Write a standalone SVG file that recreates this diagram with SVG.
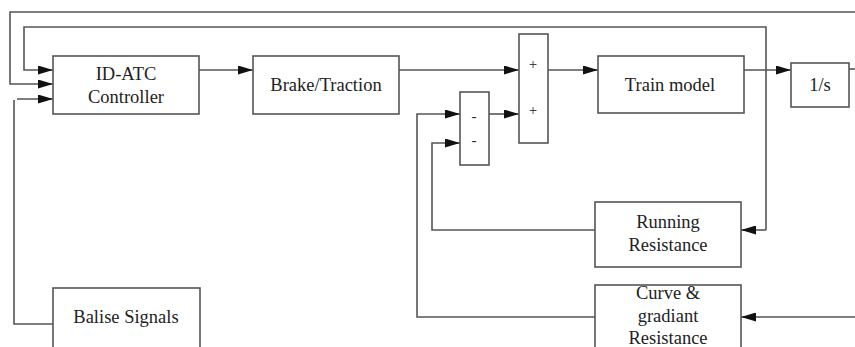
<svg xmlns="http://www.w3.org/2000/svg" width="855" height="347" viewBox="0 0 855 347">
<style>
.box{fill:#fff;stroke:#555;stroke-width:1.6}
.ln{fill:none;stroke:#555;stroke-width:1.6}
text{font-family:"Liberation Serif","Times New Roman",serif;font-size:18.5px;fill:#222;text-anchor:middle}
.sm{font-size:15px}
</style>
<defs>
<marker id="ar" markerWidth="15" markerHeight="9" refX="15" refY="4.5" orient="auto" markerUnits="userSpaceOnUse">
<path d="M0,0 L15,4.5 L0,9 Z" fill="#111"/>
</marker>
</defs>
<rect width="855" height="347" fill="#fff"/>
<g id="connectors">
<path class="ln" d="M855,12 H10 V84 H53" marker-end="url(#ar)"/>
<path class="ln" d="M766,230 V27 H24 V70 H53" marker-end="url(#ar)"/>
<path class="ln" d="M766,230 H741" marker-end="url(#ar)"/>
<path class="ln" d="M17,99 H53" marker-end="url(#ar)"/>
<path class="ln" d="M53,324 H14 V100"/>
<path class="ln" d="M199,70 H253" marker-end="url(#ar)"/>
<path class="ln" d="M399,70 H519" marker-end="url(#ar)"/>
<path class="ln" d="M489,114 H519" marker-end="url(#ar)"/>
<path class="ln" d="M595,317 H417 V114 H460" marker-end="url(#ar)"/>
<path class="ln" d="M595,230 H432 V143 H460" marker-end="url(#ar)"/>
<path class="ln" d="M548,70 H598" marker-end="url(#ar)"/>
<path class="ln" d="M744,70 H791" marker-end="url(#ar)"/>
<path class="ln" d="M849,69 H855"/>
<path class="ln" d="M855,317 H741" marker-end="url(#ar)"/>
</g>
<g id="controller">
<rect class="box" x="53" y="56" width="146" height="58"/>
<text x="126" y="80">ID-ATC</text>
<text x="126" y="103">Controller</text>
</g>
<g id="brake">
<rect class="box" x="253" y="56" width="146" height="58"/>
<text x="326" y="91">Brake/Traction</text>
</g>
<g id="sum">
<rect class="box" x="519" y="34" width="29" height="109"/>
<text class="sm" x="533" y="69">+</text>
<text class="sm" x="533" y="115">+</text>
</g>
<g id="minus">
<rect class="box" x="460" y="92" width="29" height="73"/>
<text class="sm" x="474" y="121">-</text>
<text class="sm" x="474" y="145">-</text>
</g>
<g id="train">
<rect class="box" x="598" y="56" width="146" height="57"/>
<text x="670" y="91">Train model</text>
</g>
<g id="integrator">
<rect class="box" x="791" y="63" width="58" height="44"/>
<text x="820" y="91">1/s</text>
</g>
<g id="running">
<rect class="box" x="595" y="202" width="146" height="65"/>
<text x="668" y="228">Running</text>
<text x="668" y="251">Resistance</text>
</g>
<g id="curve">
<rect class="box" x="595" y="285" width="146" height="70"/>
<text x="668" y="299">Curve &amp;</text>
<text x="668" y="322">gradiant</text>
<text x="668" y="344">Resistance</text>
</g>
<g id="balise">
<rect class="box" x="53" y="288" width="147" height="62"/>
<text x="126" y="323">Balise Signals</text>
</g>
</svg>
